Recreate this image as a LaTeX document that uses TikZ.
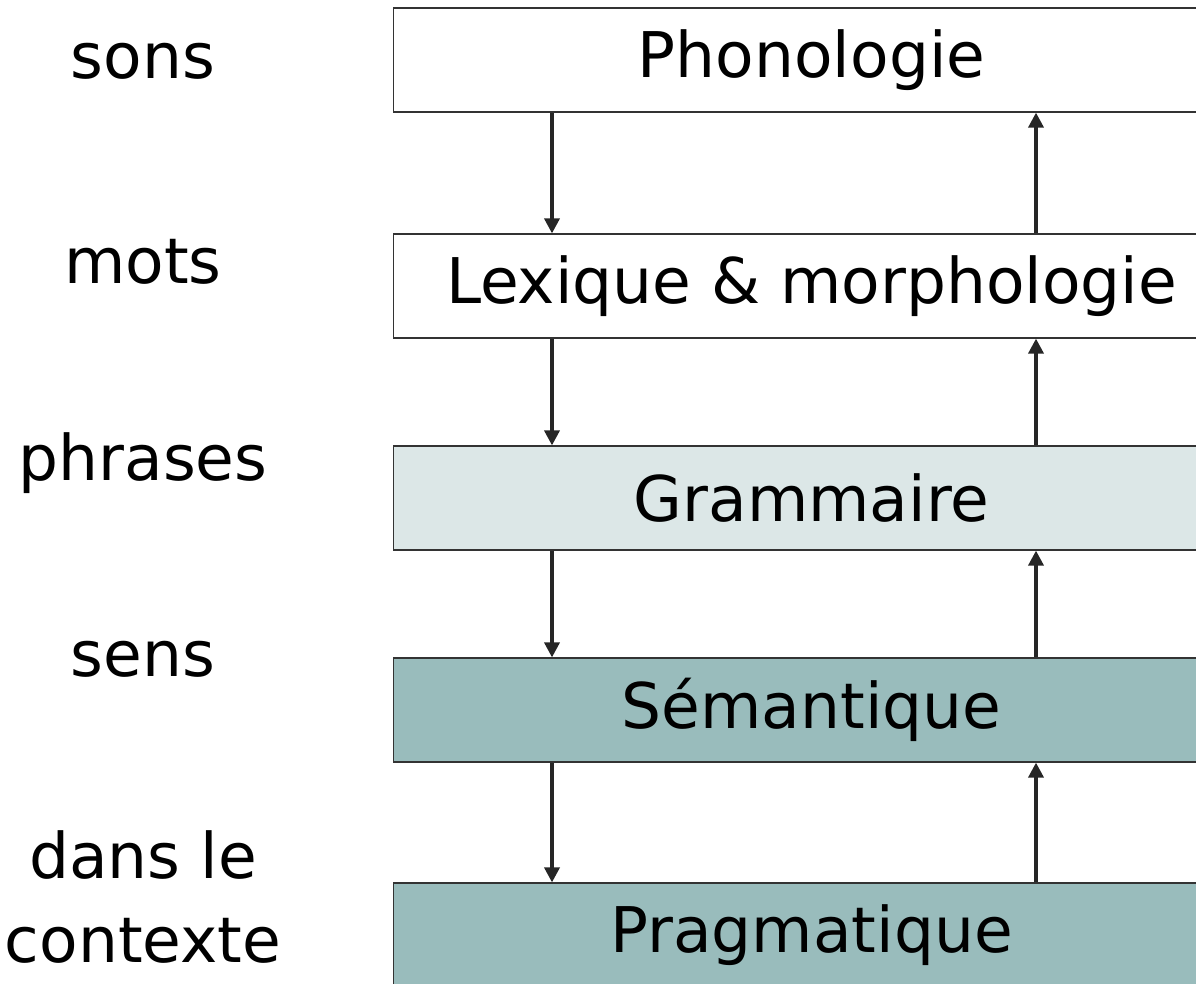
\documentclass[tikz,border=0pt]{standalone}
\usepackage{fontspec}
\setmainfont{DejaVu Sans}
\usepackage{xcolor}
\usetikzlibrary{arrows.meta}
\definecolor{grisclair}{RGB}{220,231,231}
\definecolor{sarcelle}{RGB}{153,188,188}

\begin{document}
\begin{tikzpicture}[x=1pt,y=-1pt,
    niveau/.style={draw=black!80,line width=1.2pt,minimum width=836pt,minimum height=104pt,
                   anchor=west,inner sep=0pt,font=\fontsize{63}{70}\selectfont},
    etiquette/.style={anchor=base,align=center,font=\fontsize{63}{84}\selectfont},
    fleche/.style={line width=3.5pt,black!85,-{Triangle[length=15pt,width=15pt]}}]

    \useasboundingbox (0,0) rectangle (1196,983);
    \clip (0,0) rectangle (1196,983);

        % Niveaux d'analyse
    \node[niveau] (phon) at (393,60) {Phonologie};
    \node[niveau] (lex) at (393,286) {Lexique \& morphologie};
    \node[niveau,fill=grisclair] (gram) at (393,498) {Grammaire};
    \node[niveau,fill=sarcelle] (sem) at (393,710) {Sémantique};
    \node[niveau,fill=sarcelle] (prag) at (393,935) {Pragmatique};

        % Etiquettes a gauche
    \node[etiquette] (sons) at (143,78) {sons};
    \node[etiquette] (mots) at (143,283) {mots};
    \node[etiquette] (phrases) at (143,480) {phrases};
    \node[etiquette] (sens) at (143,676) {sens};
    \node[etiquette] (contexte) at (143,962) {dans le\\contexte}; % base = derniere ligne

        % Fleches
    \coordinate (bas) at (552,0);   % colonne descendante
    \coordinate (haut) at (1036,0); % colonne montante
    \draw[fleche] (phon.south -| bas) -- (lex.north -| bas);
    \draw[fleche] (lex.south -| bas) -- (gram.north -| bas);
    \draw[fleche] (gram.south -| bas) -- (sem.north -| bas);
    \draw[fleche] (sem.south -| bas) -- (prag.north -| bas);
    \draw[fleche] (lex.north -| haut) -- (phon.south -| haut);
    \draw[fleche] (gram.north -| haut) -- (lex.south -| haut);
    \draw[fleche] (sem.north -| haut) -- (gram.south -| haut);
    \draw[fleche] (prag.north -| haut) -- (sem.south -| haut);

\end{tikzpicture}
\end{document}
